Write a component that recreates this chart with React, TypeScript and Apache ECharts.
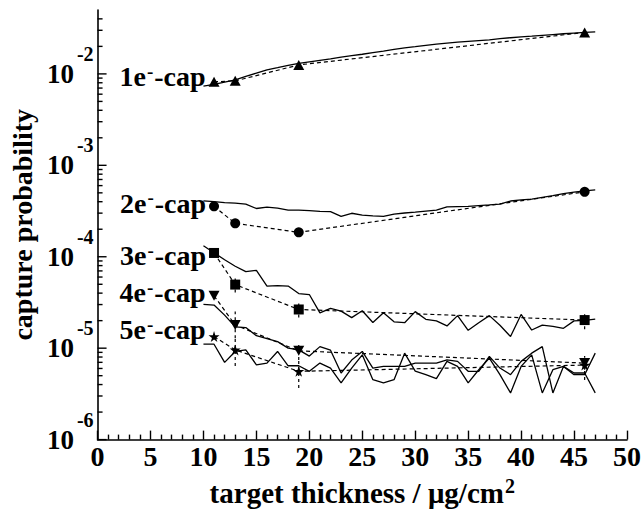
import React, { useEffect, useRef } from 'react';
import * as echarts from 'echarts';

const FONT = "'Liberation Serif', 'Times New Roman', Times, serif";

// Simulation (solid lines), x = target thickness in ug/cm2
const simX = [10, 11, 12, 13, 14, 15, 16, 17, 18, 19, 20, 21, 22, 23, 24, 25, 26, 27, 28, 29, 30, 31, 32, 33, 34, 35, 36, 37, 38, 39, 40, 41, 42, 43, 44, 45, 46, 47];
const sim1e = [7.35e-3, 7.69e-3, 8.15e-3, 8.61e-3, 9.39e-3, 1.02e-2, 1.105e-2, 1.168e-2, 1.237e-2, 1.307e-2, 1.357e-2, 1.409e-2, 1.463e-2, 1.523e-2, 1.585e-2, 1.641e-2, 1.709e-2, 1.778e-2, 1.855e-2, 1.927e-2, 1.986e-2, 2.051e-2, 2.118e-2, 2.173e-2, 2.222e-2, 2.267e-2, 2.313e-2, 2.354e-2, 2.426e-2, 2.487e-2, 2.537e-2, 2.588e-2, 2.641e-2, 2.694e-2, 2.749e-2, 2.797e-2, 2.84e-2, 2.883e-2];
const sim2e = [4.09e-4, 4.01e-4, 3.91e-4, 3.86e-4, 3.77e-4, 3.37e-4, 3.49e-4, 3.41e-4, 3.24e-4, 3.24e-4, 3.2e-4, 3.14e-4, 3.11e-4, 2.77e-4, 2.99e-4, 2.86e-4, 2.8e-4, 2.77e-4, 2.93e-4, 3.01e-4, 3.08e-4, 3.16e-4, 3.24e-4, 3.52e-4, 3.54e-4, 3.56e-4, 3.63e-4, 3.69e-4, 3.77e-4, 4.07e-4, 4.19e-4, 4.27e-4, 4.46e-4, 4.66e-4, 4.9e-4, 5.09e-4, 5.26e-4, 5.39e-4];
const sim3e = [1.317e-4, 1.105e-4, 9.28e-5, 7.88e-5, 6.87e-5, 7.1e-5, 4.78e-5, 4.84e-5, 4.78e-5, 3.96e-5, 3.86e-5, 2.43e-5, 2.72e-5, 2.54e-5, 2.16e-5, 2.57e-5, 1.91e-5, 2.44e-5, 1.94e-5, 1.9e-5, 2.51e-5, 2.07e-5, 1.99e-5, 1.75e-5, 2.27e-5, 1.57e-5, 1.9e-5, 2.27e-5, 1.78e-5, 1.34e-5, 2.34e-5, 1.58e-5, 1.79e-5, 1.73e-5, 1.65e-5, 1.99e-5, 2.01e-5, 2.08e-5];
const sim4e = [3.01e-5, 2.96e-5, 2.3e-5, 1.71e-5, 1.68e-5, 1.37e-5, 1.27e-5, 1.18e-5, 1.0e-5, 9.58e-6, 8.19e-6, 1.04e-5, 9.51e-6, 5.35e-6, 7.41e-6, 9.21e-6, 6.06e-6, 6.32e-6, 6.32e-6, 6.32e-6, 6.87e-6, 6.87e-6, 6.87e-6, 7.46e-6, 7.17e-6, 5.58e-6, 5.58e-6, 8.13e-6, 6.06e-6, 5.13e-6, 7.17e-6, 8.82e-6, 1.04e-5, 3.24e-6, 6.32e-6, 5.13e-6, 5.13e-6, 8.82e-6];
const sim5e = [1.105e-5, 1.105e-5, 6.99e-6, 9.21e-6, 9.58e-6, 6.58e-6, 6.87e-6, 9.21e-6, 6.42e-6, 6.42e-6, 5.58e-6, 6.87e-6, 6.06e-6, 4.17e-6, 6.06e-6, 8.46e-6, 4.52e-6, 4.17e-6, 4.52e-6, 8.82e-6, 5.62e-6, 5.13e-6, 4.64e-6, 7.17e-6, 6.32e-6, 4.17e-6, 5.81e-6, 7.79e-6, 5.13e-6, 3.24e-6, 6.32e-6, 8.46e-6, 3.24e-6, 5.81e-6, 6.32e-6, 5.35e-6, 5.35e-6, 3.24e-6];

// Experiment (dotted lines with markers)
const expX = [11, 13, 19, 46];
const exp1e = [8.19e-3, 8.39e-3, 1.253e-2, 2.84e-2];
const exp2e = [3.56e-4, 2.32e-4, 1.85e-4, 5.13e-4];
const exp3e = [1.1e-4, 4.96e-5, 2.65e-5, 2.03e-5];
const exp4e = [3.74e-5, 1.79e-5, 9.35e-6, 6.87e-6];
const exp5e = [1.34e-5, 9.58e-6, 5.58e-6, 6.53e-6];

// Error bars: [x, low, high]
const errX = [13, 19, 46];
const err3eLow = [4.06e-5, 2.17e-5, 1.61e-5];
const err3eHigh = [5.77e-5, 3.08e-5, 2.52e-5];
const err4eLow = [1.28e-5, 7.41e-6, 5.8e-6];
const err4eHigh = [2.52e-5, 1.13e-5, 8.2e-6];
const err5eLow = [6.37e-6, 3.67e-6, 4.49e-6];
const err5eHigh = [1.28e-5, 7.41e-6, 8.19e-6];

// Axis ticks
const yDecades = [1e-6, 1e-5, 1e-4, 1e-3, 1e-2];
const yMinorMult = [2, 3, 4, 5, 6, 7, 8, 9];
const yMax = 0.05;
const yMin = 1e-6;

const capNames = ['1', '2', '3', '4', '5'];

const STAR = 'path://M50,0 L61,35 L98,35 L68,57 L79,91 L50,70 L21,91 L32,57 L2,35 L39,35 Z';

function buildOption() {
  const capRich = {
    m: { fontSize: 28, fontWeight: 'bold', fontFamily: FONT, color: '#000', lineHeight: 30 },
    s: { fontSize: 19, fontWeight: 'bold', fontFamily: FONT, color: '#000', lineHeight: 12, verticalAlign: 'top', padding: [0, 1, 0, 1] },
  };
  const sims = [sim1e, sim2e, sim3e, sim4e, sim5e];
  const exps = [exp1e, exp2e, exp3e, exp4e, exp5e];
  const symbols: any[] = ['triangle', 'circle', 'rect', 'triangle', STAR];
  const symbolSizes: any[] = [[11, 10], 10, 10, [11, 10], 11];
  const symbolRotates = [0, 0, 0, 180, 0];
  const labelOffsets = [[0, -5], [0, -3], [0, 3], [0, -3], [0, -7]];

  const series: any[] = [];
  sims.forEach((arr) => {
    series.push({
      type: 'line',
      data: simX.map((x, i) => [x, arr[i]]),
      symbol: 'none',
      lineStyle: { color: '#000', width: 1.3 },
      silent: true,
      z: 2,
    });
  });
  exps.forEach((arr, k) => {
    series.push({
      type: 'line',
      data: expX.map((x, i) =>
        i === 0
          ? {
              value: [x, arr[i]],
              label: {
                show: true,
                position: 'left',
                distance: 3,
                offset: labelOffsets[k],
                formatter: `{m|${capNames[k]}e}{s|-}{m|-cap}`,
                rich: capRich,
              },
            }
          : [x, arr[i]]
      ),
      symbol: symbols[k],
      symbolSize: symbolSizes[k],
      symbolRotate: symbolRotates[k],
      itemStyle: { color: '#000' },
      lineStyle: { color: '#000', width: 1.2, type: [4, 3] },
      z: 3,
    });
  });

  const errSets = [
    [err3eLow, err3eHigh],
    [err4eLow, err4eHigh],
    [err5eLow, err5eHigh],
  ];
  errSets.forEach(([lo, hi]) => {
    series.push({
      type: 'custom',
      data: errX.map((x, i) => [x, lo[i], hi[i]]),
      encode: { x: 0, y: [1, 2] },
      silent: true,
      z: 3,
      renderItem: (params: any, api: any) => {
        const p1 = api.coord([api.value(0), api.value(1)]);
        const p2 = api.coord([api.value(0), api.value(2)]);
        return {
          type: 'line',
          shape: { x1: p1[0], y1: p1[1], x2: p2[0], y2: p2[1] },
          style: { stroke: '#000', lineWidth: 1.2, lineDash: [3, 3] },
        };
      },
    });
  });

  const yMinorTicks: number[] = [];
  yDecades.forEach((d) => yMinorMult.forEach((m) => { if (d * m < yMax) yMinorTicks.push(d * m); }));
  const tickSeries = (vals: number[], len: number) => ({
    type: 'custom',
    data: vals.map((v) => [0, v]),
    encode: { x: 0, y: 1 },
    silent: true,
    clip: false,
    z: 5,
    renderItem: (params: any, api: any) => {
      const p = api.coord([api.value(0), api.value(1)]);
      return {
        type: 'line',
        shape: { x1: p[0], y1: p[1], x2: p[0] + len, y2: p[1] },
        style: { stroke: '#000', lineWidth: 1.4 },
      };
    },
  });
  series.push(tickSeries(yDecades, 9));
  series.push(tickSeries(yMinorTicks, 5));

  return {
    animation: false,
    backgroundColor: '#fff',
    grid: { left: 96, right: 16, top: 10, bottom: 70 },
    xAxis: {
      type: 'value',
      min: 0,
      max: 50,
      interval: 5,
      axisLine: { onZero: false, lineStyle: { color: '#000', width: 1.6 } },
      axisTick: { inside: true, length: 9, lineStyle: { color: '#000', width: 1.4 } },
      minorTick: { show: true, splitNumber: 5, length: 5, lineStyle: { color: '#000', width: 1.4 } },
      splitLine: { show: false },
      axisLabel: { color: '#000', fontSize: 28, fontWeight: 'bold', fontFamily: FONT, margin: 3 },
      name: '{t|target thickness / μg/cm}{s|2}',
      nameLocation: 'middle',
      nameGap: 34,
      nameTextStyle: {
        rich: {
          t: { fontSize: 29, fontWeight: 'bold', fontFamily: FONT, color: '#000', lineHeight: 34 },
          s: { fontSize: 20, fontWeight: 'bold', fontFamily: FONT, color: '#000', lineHeight: 10, verticalAlign: 'top', padding: [0, 0, 0, 1] },
        },
      },
    },
    yAxis: {
      type: 'log',
      logBase: 10,
      min: yMin,
      max: yMax,
      axisLine: { lineStyle: { color: '#000', width: 1.6 } },
      axisTick: { show: false },
      minorTick: { show: false },
      splitLine: { show: false },
      axisLabel: {
        margin: 4,
        formatter: (val: number) => {
          const e = Math.round(Math.log10(val));
          if (Math.abs(val - Math.pow(10, e)) / val > 1e-6) return '';
          return `{b|10}{s|${e}}`;
        },
        rich: {
          b: { fontSize: 27, fontWeight: 'bold', fontFamily: FONT, color: '#000', lineHeight: 60 },
          s: { fontSize: 20, fontWeight: 'bold', fontFamily: FONT, color: '#000', lineHeight: 12, verticalAlign: 'top', padding: [0, 0, 0, 3] },
        },
      },
      name: 'capture probability',
      nameLocation: 'middle',
      nameGap: 57,
      nameRotate: 90,
      nameTextStyle: { fontSize: 28, fontWeight: 'bold', fontFamily: FONT, color: '#000' },
    },
    series,
  };
}

export default function App() {
  const ref = useRef<HTMLDivElement>(null);
  useEffect(() => {
    if (!ref.current) return;
    const chart = echarts.init(ref.current, null, { renderer: 'svg' });
    chart.setOption(buildOption() as any);
    return () => chart.dispose();
  }, []);
  return (
    <div
      ref={ref}
      style={{ position: 'fixed', left: 0, top: 0, width: 644, height: 512, background: '#fff' }}
    />
  );
}
